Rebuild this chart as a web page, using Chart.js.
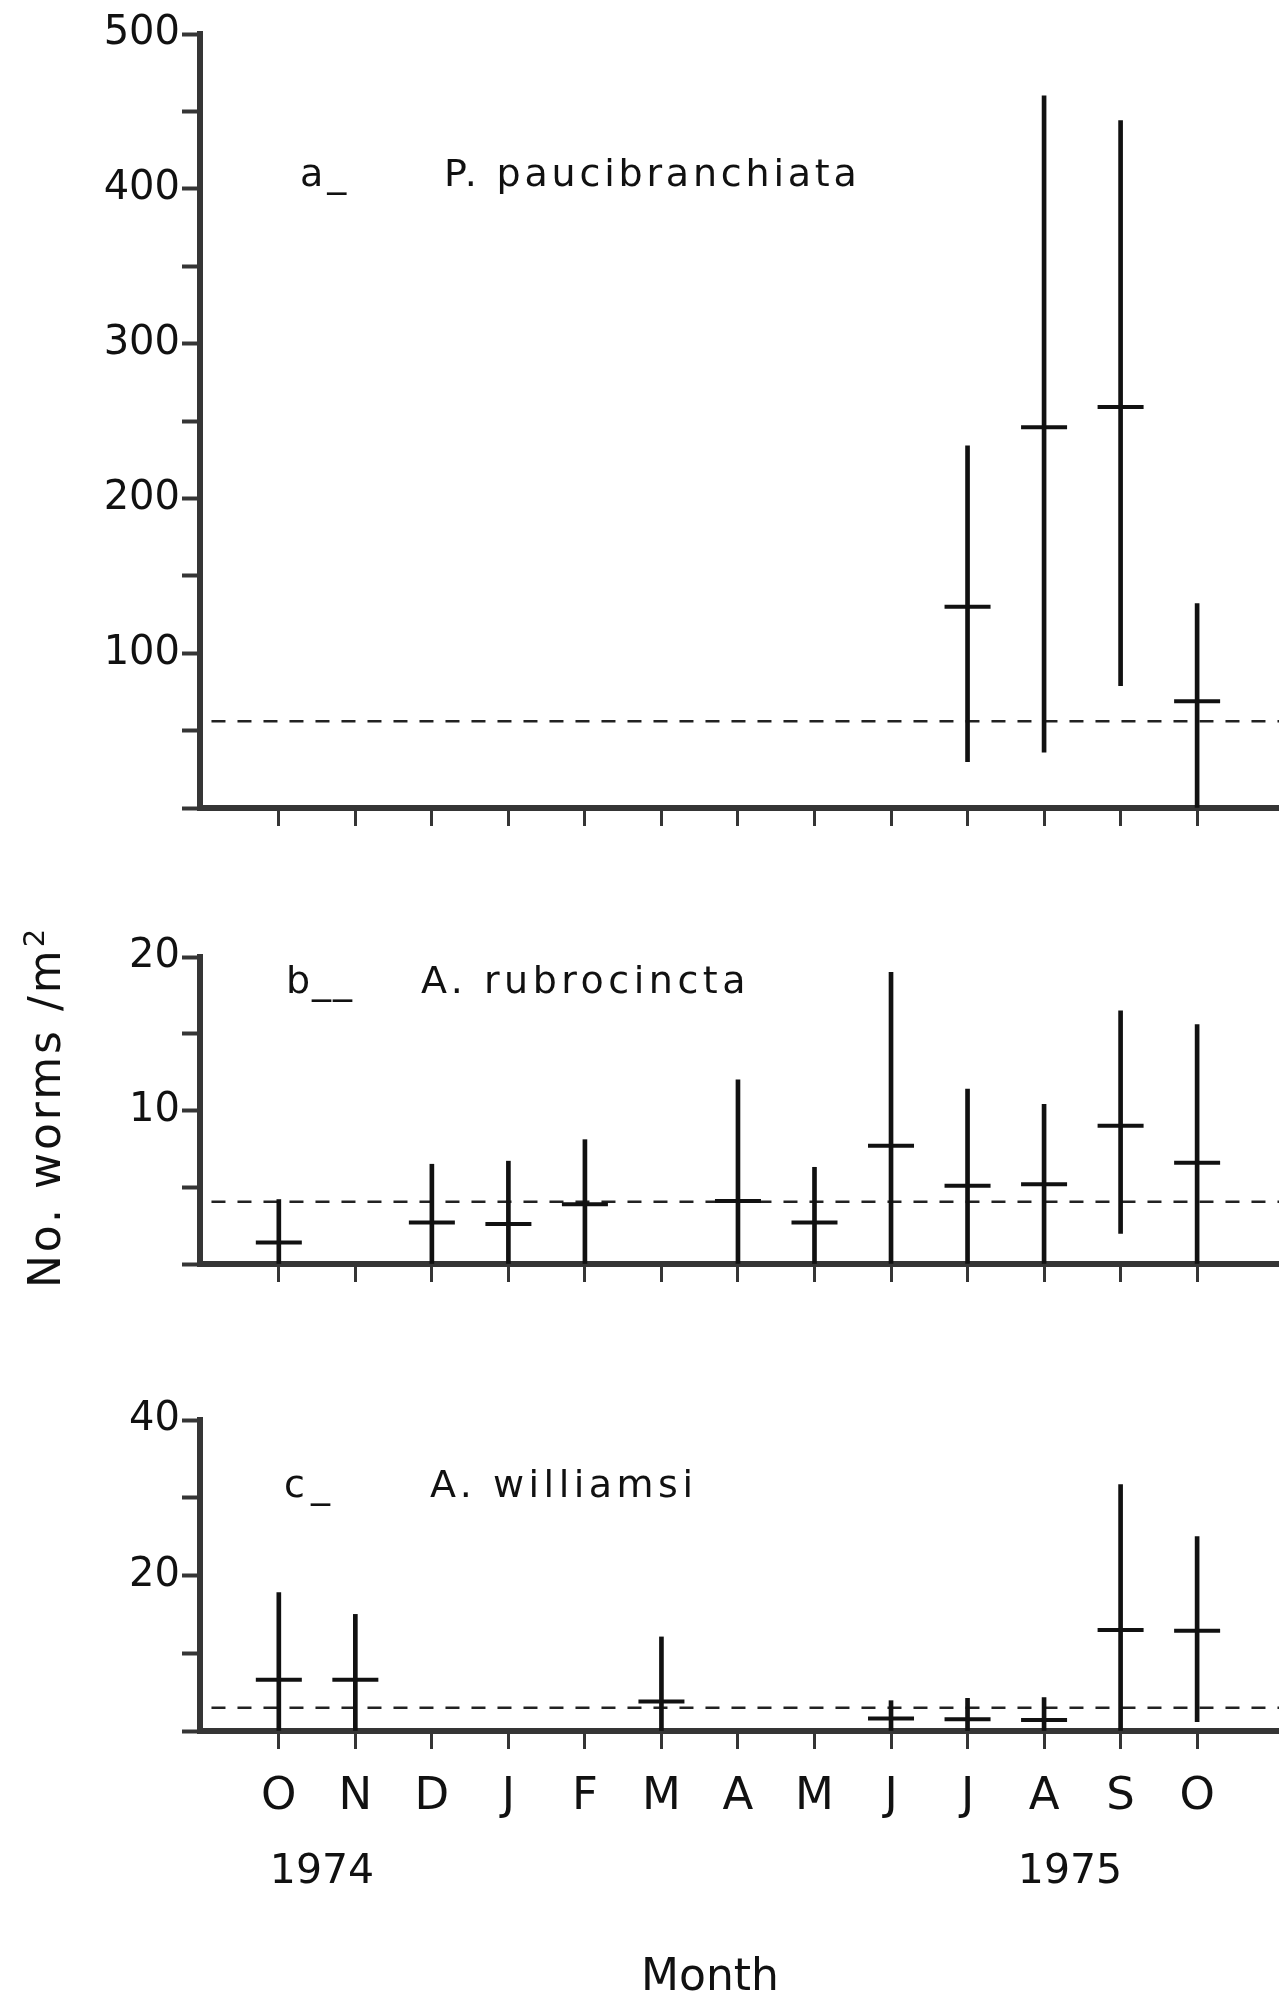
<!DOCTYPE html>
<html>
<head>
<meta charset="utf-8">
<script src="https://cdn.jsdelivr.net/npm/chart.js@4.4.1/dist/chart.umd.min.js"></script>
<style>
  html, body { margin: 0; padding: 0; background: #fff; }
  body { width: 1279px; height: 1996px; position: relative; overflow: hidden; font-family: "DejaVu Sans", sans-serif; color: #111; }
  canvas { position: absolute; left: 0; }
  #ytitle {
    position: absolute; left: -155px; top: 1082px; width: 400px; height: 50px;
    line-height: 50px; text-align: center; font-size: 44px; letter-spacing: 3px;
    transform: rotate(-90deg); white-space: nowrap;
  }
  #ytitle sup { font-size: 29px; line-height: 0; }
</style>
</head>
<body>
<canvas id="chartA" width="1279" height="850" style="top:0px"></canvas>
<canvas id="chartB" width="1279" height="400" style="top:900px"></canvas>
<canvas id="chartC" width="1279" height="616" style="top:1380px"></canvas>
<div id="ytitle">No. worms /m<sup>2</sup></div>
<script>
// months Oct 1974 - Oct 1975
const months = ['O', 'N', 'D', 'J', 'F', 'M', 'A', 'M', 'J', 'J', 'A', 'S', 'O'];

// a - P. paucibranchiata
const meanA = [null, null, null, null, null, null, null, null, null, 130, 246, 259, 69];
const lowA  = [null, null, null, null, null, null, null, null, null, 30, 36, 79, 0];
const highA = [null, null, null, null, null, null, null, null, null, 234, 460, 444, 132];
const refA = 56;
const yLabelsA = [100, 200, 300, 400, 500];

// b - A. rubrocincta
const meanB = [1.4, null, 2.7, 2.6, 3.9, null, 4.1, 2.7, 7.7, 5.1, 5.2, 9.0, 6.6];
const lowB  = [0, null, 0, 0, 0, null, 0, 0, 0, 0, 0, 2.0, 0];
const highB = [4.2, null, 6.5, 6.7, 8.1, null, 12.0, 6.3, 19.0, 11.4, 10.4, 16.5, 15.6];
const refB = 4.05;
const yLabelsB = [10, 20];

// c - A. williamsi
const meanC = [6.6, 6.6, null, null, null, 3.8, null, null, 1.6, 1.5, 1.4, 13.0, 12.9];
const lowC  = [0, 0, null, null, null, 0, null, null, 0, 0, 0, 0, 1.2];
const highC = [17.8, 15.0, null, null, null, 12.1, null, null, 3.9, 4.2, 4.3, 31.7, 25.0];
const refC = 3.0;
const yLabelsC = [20, 40];

// x range runs a bit past the first and last month
const X_MIN = -1.03;
const X_MAX = 13.07;
const INK = '#111';
const AXIS = '#353535';
const FONT = '"DejaVu Sans", sans-serif';

// draws the panel titles and other free text
const textPlugin = {
  id: 'panelText',
  afterDraw(chart, args, opts) {
    const ctx = chart.ctx;
    ctx.save();
    ctx.fillStyle = INK;
    ctx.textBaseline = 'alphabetic';
    opts.items.forEach(function (t) {
      ctx.font = t.size + 'px ' + FONT;
      ctx.letterSpacing = (t.spacing || 0) + 'px';
      ctx.textAlign = t.align || 'left';
      ctx.fillText(t.text, t.x, t.y);
    });
    ctx.restore();
  }
};

function makePanel(id, mean, low, high, ref, yMax, step, yLabels, cfg) {
  const bars = [];
  const marks = [];
  months.forEach(function (m, i) {
    if (mean[i] === null) return;
    bars.push({ x: i, y: [low[i], high[i]] });
    marks.push({ x: i, y: mean[i] });
  });

  return new Chart(document.getElementById(id), {
    type: 'bar',
    data: {
      datasets: [
        {
          type: 'bar',
          data: bars,
          backgroundColor: INK,
          borderWidth: 0,
          barThickness: 4
        },
        {
          type: 'scatter',
          data: marks,
          pointStyle: 'line',
          pointRadius: 23,
          pointBorderWidth: 4,
          pointBorderColor: INK,
          borderColor: INK,
          borderWidth: 4,
          clip: false
        },
        {
          type: 'line',
          data: [{ x: X_MIN + 0.15, y: ref }, { x: X_MAX, y: ref }],
          borderColor: '#222',
          borderWidth: 2.5,
          borderDash: [14, 12],
          pointRadius: 0,
          fill: false
        }
      ]
    },
    options: {
      responsive: false,
      animation: false,
      layout: { autoPadding: false, padding: { top: cfg.padTop, left: 0, right: 0, bottom: 0 } },
      plugins: {
        legend: { display: false },
        tooltip: { enabled: false },
        panelText: { items: cfg.text }
      },
      scales: {
        x: {
          type: 'linear',
          min: X_MIN,
          max: X_MAX,
          offset: false,
          afterFit: function (s) {
            s.height = cfg.xHeight;
            s.paddingLeft = 0;
            s.paddingRight = 0;
          },
          afterBuildTicks: function (s) {
            s.ticks = months.map(function (m, i) { return { value: i }; });
          },
          ticks: {
            autoSkip: false,
            maxRotation: 0,
            padding: 21,
            color: INK,
            font: { family: FONT, size: 45 },
            callback: function (v) { return cfg.showMonths ? months[v] : ''; }
          },
          grid: { offset: false, drawOnChartArea: false, tickLength: 18, tickWidth: 3, tickColor: AXIS },
          border: { color: AXIS, width: 6 }
        },
        y: {
          min: 0,
          max: yMax,
          afterFit: function (s) { s.width = 200; },
          ticks: {
            stepSize: step,
            padding: 2,
            color: INK,
            font: { family: FONT, size: 40 },
            callback: function (v) { return yLabels.includes(v) ? String(v) : ''; }
          },
          grid: { drawOnChartArea: false, tickLength: 18, tickWidth: 4, tickColor: AXIS },
          border: { color: AXIS, width: 6 }
        }
      }
    },
    plugins: [textPlugin]
  });
}

makePanel('chartA', meanA, lowA, highA, refA, 500, 50, yLabelsA, {
  padTop: 34, xHeight: 42, showMonths: false,
  text: [
    { text: 'a_', x: 300, y: 186, size: 38, spacing: 4 },
    { text: 'P. paucibranchiata', x: 444, y: 186, size: 38, spacing: 3.8 }
  ]
});

makePanel('chartB', meanB, lowB, highB, refB, 20, 5, yLabelsB, {
  padTop: 57, xHeight: 36, showMonths: false,
  text: [
    { text: 'b__', x: 286, y: 93, size: 38, spacing: 2 },
    { text: 'A. rubrocincta', x: 421, y: 93, size: 38, spacing: 4.5 }
  ]
});

makePanel('chartC', meanC, lowC, highC, refC, 40, 10, yLabelsC, {
  padTop: 40, xHeight: 265, showMonths: true,
  text: [
    { text: 'c_', x: 284, y: 117, size: 38, spacing: 6 },
    { text: 'A. williamsi', x: 430, y: 117, size: 38, spacing: 4.5 },
    { text: '1974', x: 322, y: 503, size: 41, align: 'center' },
    { text: '1975', x: 1070, y: 503, size: 41, align: 'center' },
    { text: 'Month', x: 710, y: 610, size: 44, align: 'center' }
  ]
});
</script>
</body>
</html>
